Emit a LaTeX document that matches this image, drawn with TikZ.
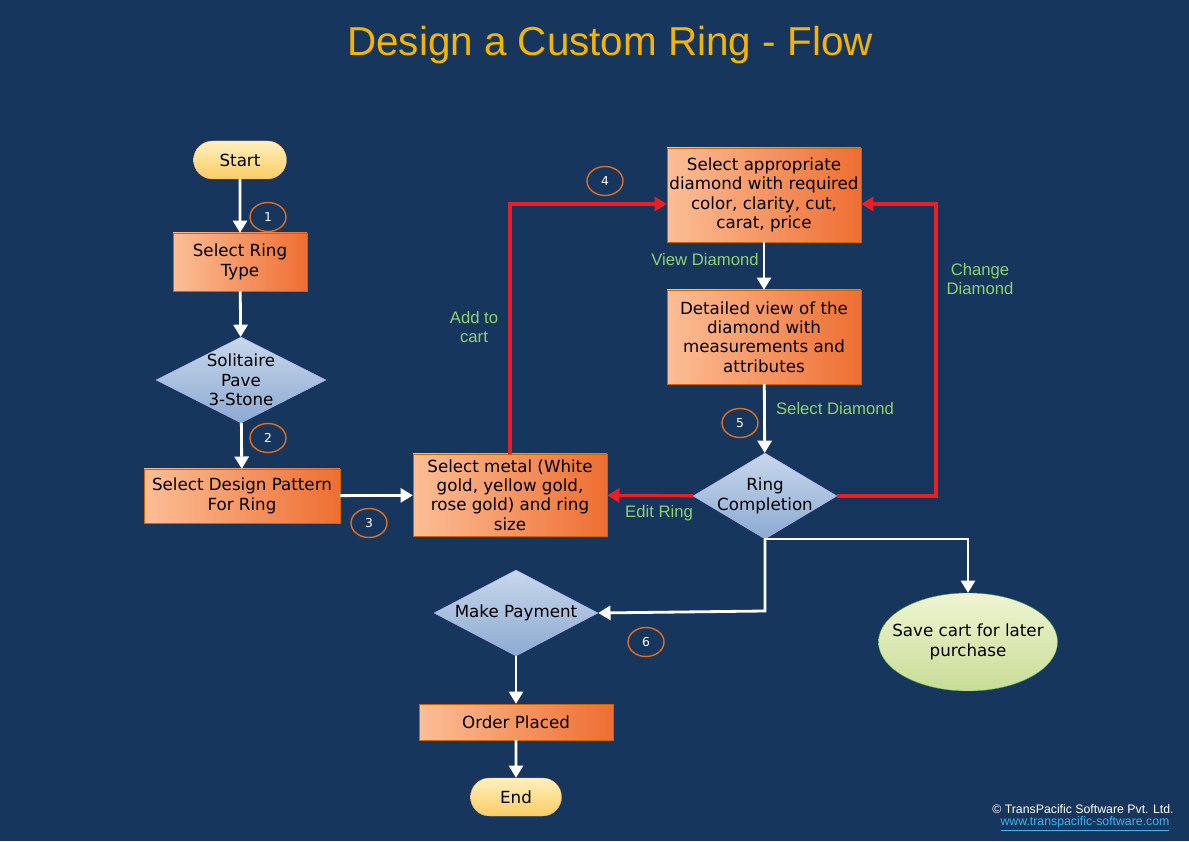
\documentclass[tikz,border=0pt]{standalone}
\usepackage{fontspec}
\setmainfont{DejaVu Sans}
\newfontfamily\titlefont{Liberation Sans}
\usetikzlibrary{shapes.geometric, shapes.misc, arrows.meta}
\definecolor{bgnavy}{RGB}{23,54,93}
\definecolor{titleorange}{RGB}{245,180,0}
\definecolor{lblgreen}{RGB}{140,210,110}
\definecolor{numorange}{RGB}{225,110,30}
\definecolor{flowred}{RGB}{235,30,35}
\definecolor{linkblue}{RGB}{60,180,240}
\tikzset{
  box/.style={rectangle, draw=orange!80!black, very thin, shading angle=135,
    left color={rgb,255:red,252;green,190;blue,150}, right color={rgb,255:red,238;green,110;blue,50},
    font=\fontsize{9.5}{11}\selectfont, align=center, inner sep=1pt},
  term/.style={rounded rectangle, draw=orange!60, very thin, top color={rgb,255:red,255;green,240;blue,190},
    bottom color={rgb,255:red,250;green,205;blue,100}, font=\fontsize{9.5}{11}\selectfont,
    minimum width=2cm, minimum height=0.76cm, inner xsep=2pt},
  choice/.style={diamond, draw=blue!30, very thin, top color={rgb,255:red,200;green,215;blue,235},
    bottom color={rgb,255:red,140;green,170;blue,210}, inner sep=0pt,
    label={[align=center, font=\fontsize{9.5}{11}\selectfont]center:#1}},
  num/.style={ellipse, draw=numorange, thick, minimum width=0.72cm, minimum height=0.58cm,
    inner sep=0pt, text=white, font=\fontsize{7}{8}\selectfont},
  lbl/.style={text=lblgreen, font=\titlefont\fontsize{9.5}{11}\selectfont, align=center},
  wflow/.style={draw=white, line width=1.6pt, -{Triangle[length=7pt,width=8pt]}},
  rflow/.style={draw=flowred, line width=1.8pt, -{Triangle[length=7pt,width=8pt]}}
}
\begin{document}
\begin{tikzpicture}
    \useasboundingbox[fill=bgnavy] (0, 0) rectangle (23.78, 16.82);

    \node[text=titleorange, font=\titlefont\fontsize{23}{26}\selectfont] (title) at (12.2, 15.92) {Design a Custom Ring - Flow};

    % left column
    \node[term] (start) at (4.8, 13.62) {Start};
    \node[box, minimum width=2.68cm, minimum height=1.16cm] (ringtype) at (4.8, 11.58) {Select Ring\\Type};
    \node[choice={Solitaire\\Pave\\3-Stone}, minimum width=3.4cm, minimum height=1.72cm] (style) at (4.82, 9.22) {};
    \node[box, minimum width=3.92cm, minimum height=1.08cm] (pattern) at (4.84, 6.9) {Select Design Pattern\\For Ring};

    % middle and right
    \node[box, minimum width=3.88cm, minimum height=1.64cm] (metal) at (10.2, 6.92) {Select metal (White\\gold, yellow gold,\\rose gold) and ring\\size};
    \node[box, minimum width=3.88cm, minimum height=1.88cm] (pick) at (15.28, 12.92) {Select appropriate\\diamond with required\\color, clarity, cut,\\carat, price};
    \node[box, minimum width=3.88cm, minimum height=1.88cm] (detail) at (15.28, 10.08) {Detailed view of the\\diamond with\\measurements and\\attributes};
    \node[choice={Ring\\Completion}, minimum width=2.88cm, minimum height=1.72cm] (ring) at (15.3, 6.9) {};
    \node[choice={Make Payment}, minimum width=3.28cm, minimum height=1.72cm] (pay) at (10.32, 4.56) {};
    \node[box, minimum width=3.88cm, minimum height=0.72cm] (order) at (10.32, 2.38) {Order Placed};
    \node[term, minimum width=1.96cm] (end) at (10.32, 0.88) {End};
    \node[ellipse, draw=green!40!gray, very thin, top color={rgb,255:red,240;green,245;blue,210},
      bottom color={rgb,255:red,200;green,220;blue,150}, minimum width=3.32cm, minimum height=1.96cm,
      inner xsep=-7pt, align=center, font=\fontsize{9.5}{11}\selectfont] (save) at (19.36, 3.98) {Save cart for later\\purchase};

    % step numbers
    \node[num] (n1) at (5.36, 12.48) {1};
    \node[num] (n2) at (5.36, 8.06) {2};
    \node[num] (n3) at (7.38, 6.36) {3};
    \node[num] (n4) at (12.1, 13.2) {4};
    \node[num] (n5) at (14.8, 8.36) {5};
    \node[num] (n6) at (12.92, 3.98) {6};

    \coordinate (turn) at (15.3, 4.6);
    \coordinate (fork) at (19.36, 6.04);

    % connectors
    \draw[wflow] (start) -- (ringtype);
    \draw[wflow] (ringtype) -- (style);
    \draw[wflow] (style) -- (pattern);
    \draw[wflow] (pattern) -- (metal);
    \draw[rflow] (metal.north) |- (pick.west |- 0, 12.74);
    \draw[wflow] (pick) -- (detail);
    \draw[wflow] (detail) -- (ring);
    \draw[rflow] (ring) -- (metal);
    \draw[rflow] (ring.east) -| (18.72, 12.74) -- (pick.east |- 0, 12.74);
    \draw[wflow] (ring.south) -- (turn) -- (pay.east);
    \draw[wflow] (ring.south) -- (15.3, 6.04) -- (fork) -- (save.north);
    \draw[wflow] (pay) -- (order);
    \draw[wflow] (order) -- (end);

    % labels
    \node[lbl] (viewlbl) at (14.1, 11.62) {View Diamond};
    \node[lbl] (sellbl) at (16.7, 8.64) {Select Diamond};
    \node[lbl] (editlbl) at (13.18, 6.56) {Edit Ring};
    \node[lbl] (addlbl) at (9.48, 10.28) {Add to\\cart};
    \node[lbl] (chglbl) at (19.6, 11.24) {Change\\Diamond};

    \node[text=white, font=\titlefont\fontsize{7}{8}\selectfont] (copy) at (21.66, 0.64) {\textcopyright{} TransPacific Software Pvt. Ltd.};
    \node[text=linkblue, font=\titlefont\fontsize{7}{8}\selectfont] (link) at (21.7, 0.34) {\underline{www.transpacific-software.com}};
\end{tikzpicture}
\end{document}
